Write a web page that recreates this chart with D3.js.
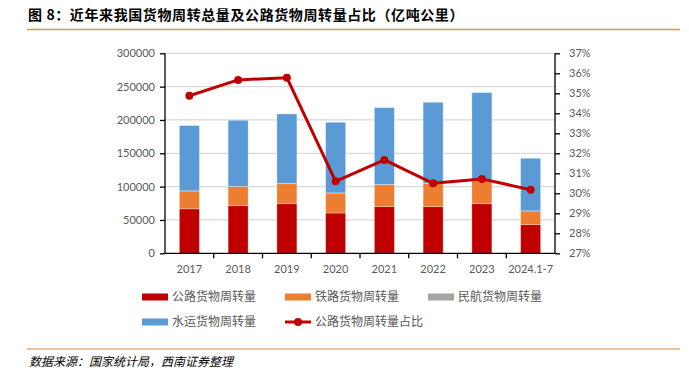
<!DOCTYPE html>
<html><head><meta charset="utf-8">
<script src="https://cdn.jsdelivr.net/npm/d3@7/dist/d3.min.js"></script>
<style>body{margin:0;background:#fff;}svg{display:block;}</style>
</head><body>
<script>
const categories = ["2017","2018","2019","2020","2021","2022","2023","2024.1-7"];
const roadValues  = [66700, 71400, 74400, 60400, 70000, 70000, 74400, 43000];
const railValues  = [26800, 28600, 30000, 30000, 33000, 34500, 35600, 20500];
const airValues   = [240, 260, 260, 240, 280, 250, 280, 170];
const waterValues = [97900, 99240, 104340, 105860, 115220, 121750, 130720, 78830];
const roadShare   = [34.88, 35.67, 35.78, 30.6, 31.67, 30.5, 30.72, 30.18];
const leftTicks   = [0, 50000, 100000, 150000, 200000, 250000, 300000];
const rightTicks  = [27,28,29,30,31,32,33,34,35,36,37];
const seriesNames = ["公路货物周转量","铁路货物周转量","民航货物周转量","水运货物周转量","公路货物周转量占比"];
const colors = ["#C00000","#ED7D31","#A5A5A5","#5B9BD5","#C00000"];

const W = 689, H = 373;
const svg = d3.select("body").append("svg").attr("width", W).attr("height", H);
const cjk = "'Noto Sans CJK SC', sans-serif";
const num = "Lato, 'Noto Sans', sans-serif";

// title
svg.append("text").attr("x", 28).attr("y", 20).attr("font-family", cjk).attr("font-weight", "bold")
  .attr("font-size", 14).attr("letter-spacing", 0.6).attr("fill", "#000").text("图 8：近年来我国货物周转总量及公路货物周转量占比（亿吨公里）");
svg.append("line").attr("x1", 27).attr("x2", 680).attr("y1", 29.5).attr("y2", 29.5)
  .attr("stroke", "#D4974F").attr("stroke-width", 1.5);

const x0 = 165, x1 = 555, yTop = 53.3, yBot = 253.3;
const x = d3.scaleBand().domain(categories).range([x0, x1]).paddingInner(0.59).paddingOuter(0.295);
const y = d3.scaleLinear().domain([0, 300000]).range([yBot, yTop]);
const y2 = d3.scaleLinear().domain([27, 37]).range([yBot, yTop]);

// gridlines
svg.append("g").selectAll("line").data(leftTicks.slice(1)).join("line")
  .attr("x1", x0).attr("x2", x1).attr("y1", d => y(d)).attr("y2", d => y(d))
  .attr("stroke", "#D9D9D9").attr("stroke-width", 1.2);

// stacked bars
const rows = categories.map((c, i) => ({cat: c, road: roadValues[i], rail: railValues[i], air: airValues[i], water: waterValues[i]}));
const keys = ["road","rail","air","water"];
const stack = d3.stack().keys(keys)(rows);
svg.append("g").selectAll("g").data(stack).join("g").attr("fill", (d, i) => colors[i])
  .selectAll("rect").data(d => d).join("rect")
  .attr("x", d => x(d.data.cat)).attr("width", x.bandwidth())
  .attr("y", d => y(d[1])).attr("height", d => y(d[0]) - y(d[1]))
  .attr("stroke", "rgba(255,255,255,0.35)").attr("stroke-width", 0.8);

// axes
const axL = svg.append("g").attr("transform", `translate(${x0},0)`)
  .call(d3.axisLeft(y).tickValues(leftTicks).tickFormat(d3.format("d")).tickSize(5).tickPadding(5));
const axR = svg.append("g").attr("transform", `translate(${x1},0)`)
  .call(d3.axisRight(y2).tickValues(rightTicks).tickFormat(d => d + "%").tickSize(5).tickPadding(9));
const axB = svg.append("g").attr("transform", `translate(0,${yBot})`)
  .call(d3.axisBottom(x).tickSize(0).tickPadding(12));
[axL, axR, axB].forEach(a => {
  a.select(".domain").attr("stroke", "#000").attr("stroke-width", 1.3);
  a.selectAll(".tick line").attr("stroke", "#000").attr("stroke-width", 1.3);
  a.selectAll("text").attr("fill", "#595959").attr("font-family", num).attr("font-size", 11);
});
axL.select(".domain").attr("d", `M-0,${yTop}V${yBot}`);
axR.select(".domain").attr("d", `M0,${yTop}V${yBot}`);
axB.select(".domain").attr("d", `M${x0},0H${x1}`);
// category boundary ticks
const step = x.step();
axB.append("g").selectAll("line").data(categories.slice(1)).join("line")
  .attr("x1", d => x(d) - x.paddingInner() * step / 2 ).attr("x2", d => x(d) - x.paddingInner() * step / 2)
  .attr("y1", 0).attr("y2", 5).attr("stroke", "#000").attr("stroke-width", 1.3);

// line
const line = d3.line().x((d, i) => x(categories[i]) + x.bandwidth() / 2).y(d => y2(d));
svg.append("path").datum(roadShare).attr("d", line).attr("fill", "none")
  .attr("stroke", colors[4]).attr("stroke-width", 3).attr("stroke-linejoin", "round");
svg.append("g").selectAll("circle").data(roadShare).join("circle")
  .attr("cx", (d, i) => x(categories[i]) + x.bandwidth() / 2).attr("cy", d => y2(d))
  .attr("r", 4).attr("fill", colors[4]);

// legend
const legPos = [[142, 297], [285, 297], [428, 297], [142, 322], [285, 322]];
seriesNames.forEach((n, i) => {
  const [lx, ly] = legPos[i];
  const g = svg.append("g");
  if (i < 4) {
    g.append("rect").attr("x", lx).attr("y", ly - 3.5).attr("width", 26).attr("height", 7).attr("fill", colors[i]);
  } else {
    g.append("line").attr("x1", lx).attr("x2", lx + 26).attr("y1", ly).attr("y2", ly)
      .attr("stroke", colors[i]).attr("stroke-width", 3);
    g.append("circle").attr("cx", lx + 13).attr("cy", ly).attr("r", 4).attr("fill", colors[i]);
  }
  g.append("text").attr("x", lx + 30).attr("y", ly).attr("dy", "0.36em")
    .attr("font-family", cjk).attr("font-size", 12).attr("fill", "#595959").text(n);
});

// footer
svg.append("line").attr("x1", 27).attr("x2", 680).attr("y1", 349).attr("y2", 349)
  .attr("stroke", "#DCB57E").attr("stroke-width", 1.5);
svg.append("text").attr("x", 29).attr("y", 366).attr("font-family", cjk).attr("font-style", "italic")
  .attr("font-size", 12).attr("fill", "#000").text("数据来源：国家统计局，西南证券整理");
</script>
</body></html>
